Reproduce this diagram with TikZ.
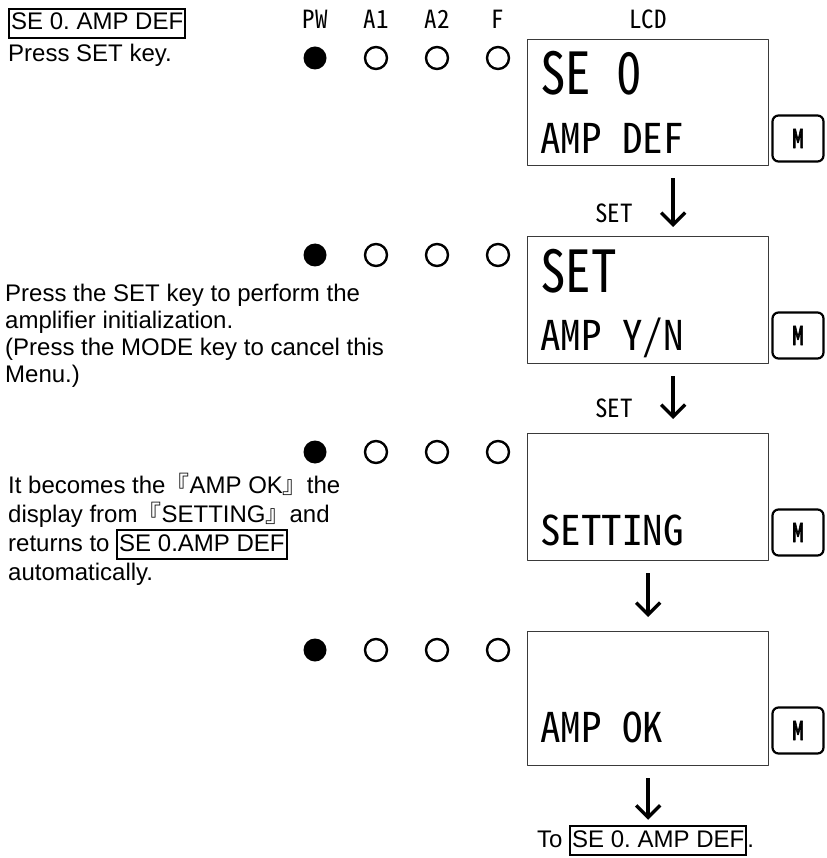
\documentclass[tikz,border=0pt]{standalone}
\usepackage{fontspec}
\setmainfont{Liberation Sans}
\newfontfamily\cjk{Noto Sans CJK JP}
\newfontfamily\lcdfont[RawFeature=+hwid]{Noto Sans CJK JP}
\newfontfamily\lcdwide[RawFeature=+hwid,FakeStretch=0.88]{Noto Sans CJK JP}
\newfontfamily\keyfont[RawFeature=+hwid,FakeBold=2.5,FakeStretch=0.9]{Noto Sans CJK JP}
\usetikzlibrary{arrows.meta}
\frenchspacing
\newcommand{\PanelX}{527}
\newcommand{\TextX}{540}
\newcommand{\LedY}{19}
\definecolor{ink}{HTML}{000000}
\definecolor{frame}{HTML}{3A3A3A}
\newcommand{\Boxed}[1]{{\setlength{\fboxsep}{1pt}\setlength{\fboxrule}{2pt}\fbox{\rule[-6pt]{0pt}{25pt}#1}}}
\tikzset{
  hdr/.style={inner sep=0pt, font=\lcdfont\fontsize{25}{25}\selectfont},
  note/.style={inner sep=0pt, align=left, anchor=base west, font=\fontsize{24}{27}\selectfont},
  lcd/.style={draw=frame, line width=1.3pt, minimum width=241pt, anchor=north west, inner sep=0pt},
  bigline/.style={inner sep=0pt, anchor=base west, font=\lcdwide\fontsize{58}{58}\selectfont},
  smallline/.style={inner sep=0pt, anchor=base west, font=\lcdfont\fontsize{41}{41}\selectfont},
  ledon/.style={circle, fill=ink, minimum size=23pt, inner sep=0pt},
  ledoff/.style={circle, draw=ink, line width=2.4pt, minimum size=22pt, inner sep=0pt},
  keybtn/.style={draw=ink, line width=2.2pt, rounded corners=6pt, minimum width=51pt, minimum height=46pt,
    inner sep=0pt, font=\keyfont\fontsize{26}{26}\selectfont},
  flow/.style={draw=ink, line width=3.4pt, -{Straight Barb[length=12pt,width=24pt]}}
}

\begin{document}
\begin{tikzpicture}[x=1pt,y=-1pt, line join=round]
  \useasboundingbox (0,0) rectangle (826,858);

  % ---- headings -----------------------------------------------------------
  \node[hdr] (pw) at (315,19) {PW};
  \node[hdr] (aone) at (376,19) {A1};
  \node[hdr] (atwo) at (437,19) {A2};
  \node[hdr] (f) at (498,19) {F};
  \node[hdr] (lcdhead) at (648,19) {LCD};

  % ---- panels: lamps, display, mode key ------------------------------------
  \foreach \i/\top/\h in {1/39/126,2/236/127,3/433/127,4/631/134} {
    \node[lcd, minimum height=\h] (lcd\i) at (\PanelX,\top) {};
    \node[ledon] (pw\i) at (315,\top+\LedY) {};
    \foreach \x/\led in {376/aone,437/atwo,498/f}
      \node[ledoff] (\led\i) at (\x,\top+\LedY) {};
    \node[keybtn] (key\i) at (798,\top+99.5) {M};
  }

  % ---- what the display shows ----------------------------------------------
  \node[bigline] (upper1) at (\TextX,95) {SE 0};
  \node[smallline] (lower1) at (\TextX,154) {AMP DEF};
  \node[bigline] (upper2) at (\TextX,292) {SET};
  \node[smallline] (lower2) at (\TextX,350) {AMP Y/N};
  \node[smallline] (lower3) at (\TextX,545) {SETTING};
  \node[smallline] (lower4) at (\TextX,742) {AMP OK};

  % ---- steps ---------------------------------------------------------------
  \draw[flow, shorten <=12pt, shorten >=9pt] ([xshift=25pt]lcd1.south) -- ([xshift=25pt]lcd2.north);
  \draw[flow, shorten <=12pt, shorten >=14pt] ([xshift=25pt]lcd2.south) -- ([xshift=25pt]lcd3.north);
  \draw[flow, shorten <=12pt, shorten >=14pt] (lcd3.south) -- (lcd4.north);
  \node[hdr] (set1) at (614,213) {SET};
  \node[hdr] (set2) at (614,408) {SET};

  % ---- notes on the left (anchored on their last line) ---------------------
  \node[note, font=\fontsize{24}{32}\selectfont] (step1) at (8,62)
    {\Boxed{SE 0. AMP DEF}\\Press SET key.};
  \node[note] (step2) at (5,382)
    {Press the SET key to perform the\\amplifier initialization.\\(Press the MODE key to cancel this\\Menu.)};
  \node[note, font=\fontsize{24}{29}\selectfont] (step3) at (8,580)
    {It becomes the{\cjk 『}AMP OK{\cjk 』}the\\display from{\cjk 『}SETTING{\cjk 』}and\\returns to \Boxed{SE 0.AMP DEF}\\automatically.};

  % ---- back to the start ---------------------------------------------------
  \node[note] (back) at (537,847) {To \Boxed{SE 0. AMP DEF}.};
  \draw[flow, shorten <=12pt, shorten >=5pt] (lcd4.south) -- (lcd4.south |- back.north);

\end{tikzpicture}
\end{document}
